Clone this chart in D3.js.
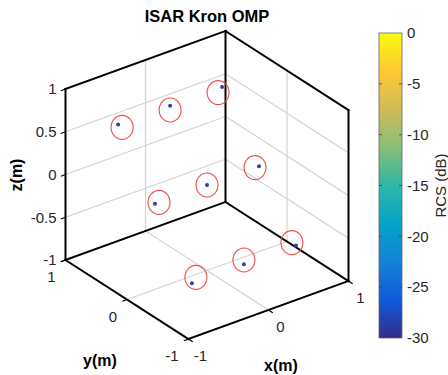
<!DOCTYPE html>
<html>
<head>
<meta charset="utf-8">
<script src="https://cdn.jsdelivr.net/npm/d3@7"></script>
<style>
  body { margin: 0; background: #fff; }
  text { font-family: "Liberation Sans", Arial, Helvetica, sans-serif; fill: #262626; }
</style>
</head>
<body>
<script>
// tick values
const xTicks = [-1, 0, 1];
const yTicks = [-1, 0, 1];
const zTicks = [-1, -0.5, 0, 0.5, 1];
const cbTicks = [0, -5, -10, -15, -20, -25, -30];

// true scatterer positions (red circles)
const trueX = [-0.6, 0, 0.6, -0.6, 0, 0.6, -0.6, 0, 0.6];
const trueY = [0.6, 0.6, 0.6, 0, 0, 0, -0.6, -0.6, -0.6];
const trueZ = [0.6, 0.6, 0.6, 0, 0, 0, -0.6, -0.6, -0.6];

// OMP estimates (blue dots)
const estX = [-0.65, 0, 0.65, -0.65, 0, 0.65, -0.65, 0, 0.65];
const estY = [0.6, 0.6, 0.6, 0, 0, 0, -0.6, -0.6, -0.6];
const estZ = [0.65, 0.65, 0.65, 0, 0, 0, -0.65, -0.65, -0.65];

// parula colormap stops
const parula = ['#352a87', '#0f5cdd', '#1481d6', '#06a4ca', '#2eb7a4',
                '#87bf77', '#d1bb59', '#fec832', '#f9fb0e'];

const width = 448, height = 375;

// data -> 0..1 along each box edge
const xScale = d3.scaleLinear().domain([-1, 1]).range([0, 1]);
const yScale = d3.scaleLinear().domain([1, -1]).range([0, 1]);
const zScale = d3.scaleLinear().domain([-1, 1]).range([0, 1]);

// projected box: corner (x=-1,y=1,z=-1) plus edge vectors
const corner = [65.5, 260];
const ex = [160, -58], ey = [123, 79], ez = [0, -171];

function proj(x, y, z) {
  const a = xScale(x), b = yScale(y), c = zScale(z);
  return [corner[0] + a * ex[0] + b * ey[0] + c * ez[0],
          corner[1] + a * ex[1] + b * ey[1] + c * ez[1]];
}

const svg = d3.select("body")
  .append("svg")
  .attr("width", width)
  .attr("height", height);

function seg(g, p, q, cls) {
  g.append("line")
    .attr("x1", p[0]).attr("y1", p[1])
    .attr("x2", q[0]).attr("y2", q[1])
    .attr("class", cls);
}

// grid lines on the two back walls and the floor
const grid = svg.append("g")
  .attr("stroke", "#d3d3d3")
  .attr("stroke-width", 1.2);
zTicks.filter(z => z > -1 && z < 1).forEach(function(z) {
  seg(grid, proj(-1, 1, z), proj(1, 1, z));
  seg(grid, proj(1, 1, z), proj(1, -1, z));
});
xTicks.filter(x => x > -1 && x < 1).forEach(function(x) {
  seg(grid, proj(x, 1, -1), proj(x, 1, 1));
  seg(grid, proj(x, 1, -1), proj(x, -1, -1));
});
yTicks.filter(y => y > -1 && y < 1).forEach(function(y) {
  seg(grid, proj(1, y, -1), proj(1, y, 1));
  seg(grid, proj(-1, y, -1), proj(1, y, -1));
});

// box edges
const box = svg.append("g")
  .attr("stroke", "#000")
  .attr("stroke-width", 2)
  .attr("stroke-linecap", "square");
seg(box, proj(-1, 1, 1), proj(1, 1, 1));
seg(box, proj(1, 1, 1), proj(1, -1, 1));
seg(box, proj(-1, 1, -1), proj(-1, 1, 1));
seg(box, proj(1, 1, -1), proj(1, 1, 1));
seg(box, proj(1, -1, -1), proj(1, -1, 1));
seg(box, proj(-1, 1, -1), proj(1, 1, -1));
seg(box, proj(1, 1, -1), proj(1, -1, -1));
seg(box, proj(-1, 1, -1), proj(-1, -1, -1));
seg(box, proj(-1, -1, -1), proj(1, -1, -1));

// tick marks
const ticks = svg.append("g")
  .attr("stroke", "#000")
  .attr("stroke-width", 1.2);
const exLen = Math.hypot(ex[0], ex[1]), eyLen = Math.hypot(ey[0], ey[1]);
const tx = [-5 * ex[0] / exLen, -5 * ex[1] / exLen];
const ty = [5 * ey[0] / eyLen, 5 * ey[1] / eyLen];
zTicks.forEach(function(z) {
  const p = proj(-1, 1, z);
  seg(ticks, p, [p[0] + tx[0], p[1] + tx[1]]);
});
yTicks.forEach(function(y) {
  const p = proj(-1, y, -1);
  seg(ticks, p, [p[0] + tx[0], p[1] + tx[1]]);
});
xTicks.forEach(function(x) {
  const p = proj(x, -1, -1);
  seg(ticks, p, [p[0] + ty[0], p[1] + ty[1]]);
});

// tick labels
const fmt = d => String(d).replace("-", "-");
svg.append("g").selectAll("text")
  .data(zTicks).enter().append("text")
  .attr("x", d => proj(-1, 1, d)[0] - 9)
  .attr("y", d => proj(-1, 1, d)[1])
  .attr("dy", "0.35em")
  .attr("text-anchor", "end")
  .style("font-size", "15px")
  .text(fmt);
svg.append("g").selectAll("text")
  .data(yTicks).enter().append("text")
  .attr("x", d => proj(-1, d, -1)[0] - 10)
  .attr("y", d => proj(-1, d, -1)[1] + 17)
  .attr("dy", "0.35em")
  .attr("text-anchor", "end")
  .style("font-size", "15px")
  .text(fmt);
svg.append("g").selectAll("text")
  .data(xTicks).enter().append("text")
  .attr("x", d => proj(d, -1, -1)[0] + 12)
  .attr("y", d => proj(d, -1, -1)[1] + 17)
  .attr("dy", "0.35em")
  .attr("text-anchor", "middle")
  .style("font-size", "15px")
  .text(fmt);

// true positions: red circles
svg.append("g").selectAll("ellipse")
  .data(trueX).enter().append("ellipse")
  .attr("cx", (d, i) => proj(trueX[i], trueY[i], trueZ[i])[0])
  .attr("cy", (d, i) => proj(trueX[i], trueY[i], trueZ[i])[1])
  .attr("rx", 11)
  .attr("ry", 12)
  .attr("fill", "none")
  .attr("stroke", "#f24b4b")
  .attr("stroke-width", 1.1);

// estimates: blue dots
svg.append("g").selectAll("circle")
  .data(estX).enter().append("circle")
  .attr("cx", (d, i) => proj(estX[i], estY[i], estZ[i])[0])
  .attr("cy", (d, i) => proj(estX[i], estY[i], estZ[i])[1])
  .attr("r", 2)
  .attr("fill", "#34409e");

// axis labels
svg.append("text")
  .attr("x", 207).attr("y", 22)
  .attr("text-anchor", "middle")
  .style("font-size", "16.5px").style("font-weight", "bold")
  .style("fill", "#000")
  .text("ISAR Kron OMP");
svg.append("text")
  .attr("transform", "translate(22,175) rotate(-90)")
  .attr("text-anchor", "middle")
  .style("font-size", "16px").style("font-weight", "bold")
  .style("fill", "#000")
  .text("z(m)");
svg.append("text")
  .attr("x", 100).attr("y", 366)
  .attr("text-anchor", "middle")
  .style("font-size", "16px").style("font-weight", "bold")
  .style("fill", "#000")
  .text("y(m)");
svg.append("text")
  .attr("x", 281).attr("y", 371)
  .attr("text-anchor", "middle")
  .style("font-size", "16px").style("font-weight", "bold")
  .style("fill", "#000")
  .text("x(m)");

// colorbar
const cbX = 379, cbW = 23;
const cbScale = d3.scaleLinear().domain([-30, 0]).range([338, 33]);

const grad = svg.append("defs").append("linearGradient")
  .attr("id", "parula")
  .attr("x1", 0).attr("y1", 1).attr("x2", 0).attr("y2", 0);
grad.selectAll("stop")
  .data(parula).enter().append("stop")
  .attr("offset", (d, i) => i / (parula.length - 1))
  .attr("stop-color", d => d);

svg.append("rect")
  .attr("x", cbX).attr("y", cbScale(0))
  .attr("width", cbW).attr("height", cbScale(-30) - cbScale(0))
  .attr("fill", "url(#parula)")
  .attr("stroke", "#666")
  .attr("stroke-width", 0.8);

const cbAxis = d3.axisRight(cbScale)
  .tickValues(cbTicks)
  .tickSize(0)
  .tickPadding(5)
  .tickFormat(d => String(d));
const cbg = svg.append("g")
  .attr("transform", "translate(" + (cbX + cbW) + ",0)")
  .call(cbAxis);
cbg.select(".domain").remove();
cbg.selectAll("text")
  .style("font-size", "15px")
  .style("font-family", "\"Liberation Sans\", Arial, sans-serif")
  .attr("fill", "#262626");

// small inward ticks on the colorbar edges
svg.append("g").selectAll("path")
  .data(cbTicks.filter(d => d > -30 && d < 0)).enter().append("path")
  .attr("d", d => "M" + cbX + "," + cbScale(d) + "h3M" + (cbX + cbW) + "," + cbScale(d) + "h-3")
  .attr("stroke", "#444")
  .attr("stroke-width", 0.8);

svg.append("text")
  .attr("transform", "translate(446," + ((cbScale(0) + cbScale(-30)) / 2) + ") rotate(-90)")
  .attr("text-anchor", "middle")
  .style("font-size", "15px")
  .text("RCS (dB)");
</script>
</body>
</html>
